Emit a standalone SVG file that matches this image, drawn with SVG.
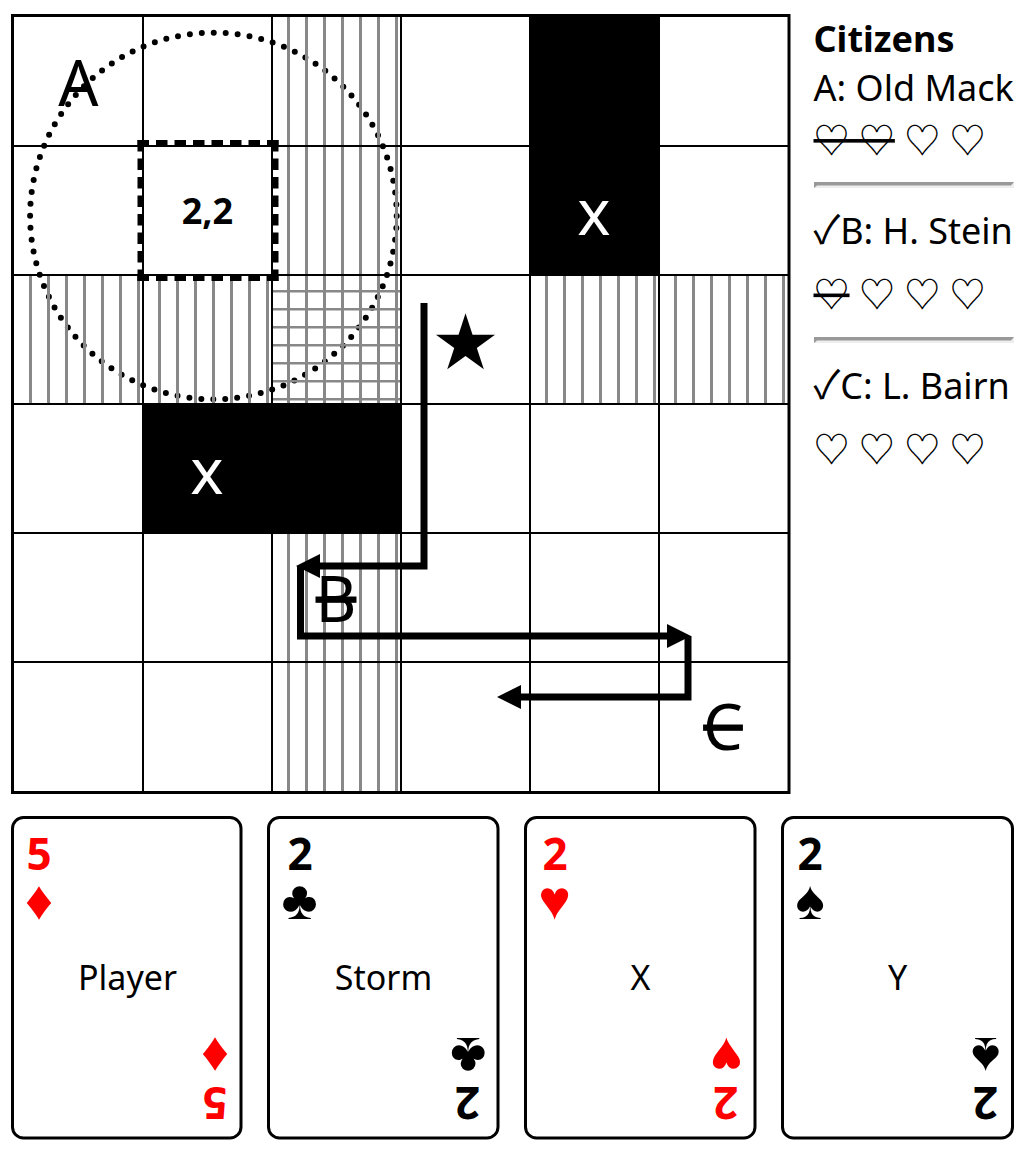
<svg xmlns="http://www.w3.org/2000/svg" width="1032" height="1155" viewBox="0 0 1032 1155">
<style>
text{font-family:"Noto Sans","Noto Sans CJK JP",sans-serif;fill:#000}
.vs{stroke:#888;stroke-width:3;fill:none}
.hs{stroke:#888;stroke-width:2.5;fill:none}
.grid{stroke:#000;stroke-width:2;fill:none}
.arrow{stroke:#000;stroke-width:7;fill:none;stroke-linejoin:miter;marker-end:url(#ah)}
.sel{stroke:#000;stroke-width:6;fill:none;stroke-dasharray:11.5 7}
.big{font-size:63px}
.white{fill:#fff}
.mid{font-size:36px}
.lab{font-size:34px}
.rank{font-size:44px;font-weight:700}
.suit{font-size:55px;font-family:"Liberation Sans",sans-serif}
.card rect{fill:#fff;stroke:#000;stroke-width:3}
.red{fill:#f00}
.hrd{fill:#999}
.hrl{fill:#eee}
.chk{font-size:39px}
</style>
<defs>
<marker id="ah" markerUnits="userSpaceOnUse" markerWidth="24" markerHeight="24" refX="0" refY="12" orient="auto"><path d="M0 0L24 12L0 24Z" fill="#000"/></marker>
<path id="v8" class="vs" d="M16.500 0V129M34.500 0V129M52.500 0V129M70.500 0V129M88.500 0V129M106.500 0V129M124.500 0V129"/>
</defs>
<rect width="1032" height="1155" fill="#fff"/>
<g id="board">
<circle id="range" cx="213.400" cy="216" r="183.300" fill="none" stroke="#000" stroke-width="6" stroke-linecap="round" stroke-dasharray="0 11.997"/>
<g id="stripes">
<use href="#v8" x="14" y="275"/><use href="#v8" x="143" y="275"/><use href="#v8" x="530" y="275"/><use href="#v8" x="659" y="275"/>
<use href="#v8" x="272" y="17"/><use href="#v8" x="272" y="146"/><use href="#v8" x="272" y="275"/><use href="#v8" x="272" y="533"/><use href="#v8" x="272" y="662"/>
<path class="hs" d="M272 291.250H400M272 309.250H400M272 327.250H400M272 345.250H400M272 363.250H400M272 381.250H400M272 399.250H400"/>
</g>
<rect x="530" y="15" width="129" height="260" fill="#000"/>
<rect x="143" y="404" width="258" height="129" fill="#000"/>
<path class="grid" d="M143 15V792M272 15V792M401 15V792M530 15V792M659 15V792M13 146H789M13 275H789M13 404H789M13 533H789M13 662H789"/>
<rect x="12.500" y="15.500" width="776.500" height="777" fill="none" stroke="#000" stroke-width="3"/>
<g id="selected">
<path class="sel" d="M137.500 143H278.500"/><path class="sel" d="M275.500 140V281"/><path class="sel" d="M278.500 278H137.500"/><path class="sel" d="M140.500 140V281"/>
</g>
</g>
<g id="cell-label"><text x="207.500" y="224" font-size="36" font-weight="700" text-anchor="middle">2,2</text></g>
<g id="token-a"><text class="big" x="78.500" y="106" text-anchor="middle">A</text></g>
<g id="token-b"><text class="big" x="336" y="622" text-anchor="middle" text-decoration="line-through">B</text></g>
<g id="token-c"><text class="big" x="723" y="750" text-anchor="middle" text-decoration="line-through">C</text></g>
<g id="x1"><text class="big white" x="594" y="235" text-anchor="middle">x</text></g>
<g id="x2"><text class="big white" x="207" y="494" text-anchor="middle">x</text></g>
<g id="star"><text x="465.500" y="369" font-size="77" style="font-family:'DejaVu Sans',sans-serif" text-anchor="middle">★</text></g>
<g id="connectors">
<path class="arrow" d="M424 303V566H320"/>
<path class="arrow" d="M300.500 566V636H667"/>
<path class="arrow" d="M688 636V697H521"/>
</g>
<g id="citizens">
<text x="813.500" y="51.500" class="mid" font-weight="700">Citizens</text>
<text x="813.500" y="100.500" class="mid">A: Old Mack</text>
<text class="mid" x="813.500" y="153.500" xml:space="preserve"><tspan text-decoration="line-through">♡ ♡</tspan> ♡ ♡</text>
<path class="hrl" d="M814 182H1014V188H814Z"/><path class="hrd" d="M814 182H1014L1011 185.500H817L814 188Z"/>
<text x="813.500" y="244" class="mid"><tspan class="chk">✓</tspan>B: H. Stein</text>
<text class="mid" x="813.500" y="308" xml:space="preserve"><tspan text-decoration="line-through">♡</tspan> ♡ ♡ ♡</text>
<path class="hrl" d="M814 337H1014V343H814Z"/><path class="hrd" d="M814 337H1014L1011 340.500H817L814 343Z"/>
<text x="813.500" y="399" class="mid"><tspan class="chk">✓</tspan>C: L. Bairn</text>
<text class="mid" x="813.500" y="463" xml:space="preserve">♡ ♡ ♡ ♡</text>
</g>
<g id="card-player" class="card"><rect x="12.500" y="817.500" width="228.500" height="320.500" rx="11"/>
<text class="rank red" x="39" y="870" text-anchor="middle">5</text><text class="suit red" x="39" y="919" text-anchor="middle">♦</text>
<text class="lab" x="127.500" y="990" text-anchor="middle">Player</text>
<g transform="rotate(180 127 978.500)"><text class="rank red" x="39" y="870" text-anchor="middle">5</text><text class="suit red" x="39" y="919" text-anchor="middle">♦</text></g></g>
<g id="card-storm" class="card"><rect x="268.500" y="817.500" width="229.500" height="320.500" rx="11"/>
<text class="rank" x="300" y="870" text-anchor="middle">2</text><text class="suit" x="299.500" y="919" text-anchor="middle">♣</text>
<text class="lab" x="383.500" y="990" text-anchor="middle">Storm</text>
<g transform="rotate(180 383.800 978.500)"><text class="rank" x="300" y="870" text-anchor="middle">2</text><text class="suit" x="299.500" y="919" text-anchor="middle">♣</text></g></g>
<g id="card-x" class="card"><rect x="525.500" y="817.500" width="229.500" height="320.500" rx="11"/>
<text class="rank red" x="555" y="870" text-anchor="middle">2</text><text class="suit red" x="554.700" y="919" text-anchor="middle">♥</text>
<text class="lab" x="640.500" y="990" text-anchor="middle">X</text>
<g transform="rotate(180 640.500 978.500)"><text class="rank red" x="555" y="870" text-anchor="middle">2</text><text class="suit red" x="554.700" y="919" text-anchor="middle">♥</text></g></g>
<g id="card-y" class="card"><rect x="782.500" y="817.500" width="230" height="320.500" rx="11"/>
<text class="rank" x="810" y="870" text-anchor="middle">2</text><text class="suit" x="810" y="919" text-anchor="middle">♠</text>
<text class="lab" x="897.500" y="990" text-anchor="middle">Y</text>
<g transform="rotate(180 897.800 978.500)"><text class="rank" x="810" y="870" text-anchor="middle">2</text><text class="suit" x="810" y="919" text-anchor="middle">♠</text></g></g>
</svg>
